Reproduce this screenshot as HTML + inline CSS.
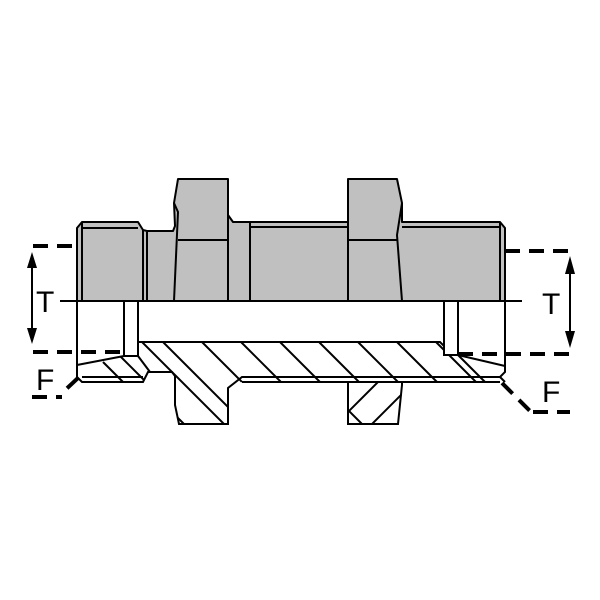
<!DOCTYPE html>
<html><head><style>html,body{margin:0;padding:0;background:#fff}svg{display:block}</style></head>
<body>
<svg width="600" height="600" viewBox="0 0 600 600" xmlns="http://www.w3.org/2000/svg" font-family="Liberation Sans, sans-serif">
<g stroke="#000" stroke-width="2" fill="#c0c0c0" stroke-linejoin="round">
  <polygon points="77,228 82,222 138,222 143,230 147,231 173,231 175,226 174,203 178,179 228,179 228,215 233,222 250,222 348,222 348,179 397,179 402,203 402,222 500,222 505,228 505,301 77,301"/>
  <line x1="82" y1="228" x2="138" y2="228"/>
  <line x1="82" y1="222" x2="82" y2="301"/>
  <line x1="143" y1="230" x2="143" y2="301"/>
  <line x1="147" y1="232" x2="147" y2="301"/>
  <polyline points="174,203 178,212 174,301" fill="none"/>
  <line x1="178" y1="240" x2="228" y2="240"/>
  <line x1="228" y1="215" x2="228" y2="301"/>
  <line x1="250" y1="222" x2="250" y2="301"/>
  <line x1="250" y1="227" x2="348" y2="227"/>
  <line x1="402" y1="227" x2="500" y2="227"/>
  <line x1="348" y1="222" x2="348" y2="301"/>
  <line x1="348" y1="240" x2="397" y2="240"/>
  <polyline points="402,203 397,235 402,301" fill="none"/>
  <line x1="500" y1="222" x2="500" y2="301"/>
</g>
<defs>
  <clipPath id="c1"><polygon points="138,342 440,342 444,346 444,355 458,355 505,365 505,378 500,382 402,382 402,385 398,424 348,424 348,382 242,382 228,388 228,424 179,424 175,405 175,378 170,372 150,372 138,356"/></clipPath>
  <clipPath id="c2"><polygon points="77,365 125,356 138,356 150,372 148,372 143,382 77,382"/></clipPath>
  <clipPath id="c3"><rect x="348" y="383" width="54" height="41"/></clipPath>
</defs>
<g stroke="#000" stroke-width="2" fill="none">
  <g clip-path="url(#c1)">
    <line x1="163" y1="342" x2="246" y2="425"/>
    <line x1="202" y1="342" x2="285" y2="425"/>
    <line x1="241" y1="342" x2="324" y2="425"/>
    <line x1="280" y1="342" x2="363" y2="425"/>
    <line x1="319" y1="342" x2="359" y2="382"/>
    <line x1="358" y1="342" x2="398" y2="382"/>
    <line x1="397" y1="342" x2="437" y2="382"/>
    <line x1="436" y1="342" x2="476" y2="382"/>
    <line x1="458" y1="355" x2="485" y2="382"/>
    <line x1="130" y1="330" x2="230" y2="430"/>
    <line x1="140" y1="380" x2="184" y2="424"/>
  </g>
  <g clip-path="url(#c2)">
    <line x1="103" y1="362" x2="123" y2="382"/>
    <line x1="120" y1="356" x2="146" y2="382"/>
  </g>
  <g clip-path="url(#c3)">
    <line x1="340" y1="420" x2="385" y2="375"/>
    <line x1="366" y1="430" x2="410" y2="386"/>
  </g>
  <polyline points="77,228 77,377 82,382 143,382 148,372 172,372 175,376 175,405 179,424 228,424 228,388 242,377 500,377 505,372 505,228"/>
  <line x1="82" y1="377" x2="143" y2="377"/>
  <line x1="242" y1="382" x2="500" y2="382"/>
  <polyline points="348,382 348,424 398,424 402,385 402,382"/>
  <polyline points="124,301 124,356 138,356 138,301"/>
  <polyline points="444,301 444,355 458,355 458,301"/>
  <polyline points="77,365 124,356"/>
  <polyline points="138,356 150,372"/>
  <polyline points="138,342 440,342 444,346"/>
  <polyline points="458,355 505,366"/>
  <polyline points="500,377 505,382"/>
  <line x1="60" y1="301" x2="525" y2="301" stroke-dasharray="22,6,6,6"/>
</g>
<g stroke="#000" stroke-width="4" fill="none" stroke-dasharray="15,9">
  <line x1="33" y1="246" x2="77" y2="246"/>
  <line x1="33" y1="352" x2="124" y2="352"/>
  <line x1="505" y1="251" x2="572" y2="251"/>
  <line x1="458" y1="354" x2="572" y2="354"/>
  <line x1="32" y1="397" x2="62" y2="397"/>
  <line x1="78" y1="378" x2="62" y2="393"/>
  <line x1="502" y1="383" x2="530" y2="411"/>
  <line x1="533" y1="412" x2="570" y2="412"/>
</g>
<g stroke="#000" stroke-width="2">
  <line x1="32" y1="262" x2="32" y2="334"/>
  <line x1="570" y1="270" x2="570" y2="336"/>
</g>
<g fill="#000">
  <polygon points="32,252 27,268 37,268"/>
  <polygon points="32,344 27,328 37,328"/>
  <polygon points="570,256 565,274 575,274"/>
  <polygon points="570,348 565,331 575,331"/>
</g>
<g font-size="30" fill="#000">
  <text x="36" y="312">T</text>
  <text x="542" y="314">T</text>
  <text x="36" y="390">F</text>
  <text x="542" y="402">F</text>
</g>
</svg>
</body></html>
